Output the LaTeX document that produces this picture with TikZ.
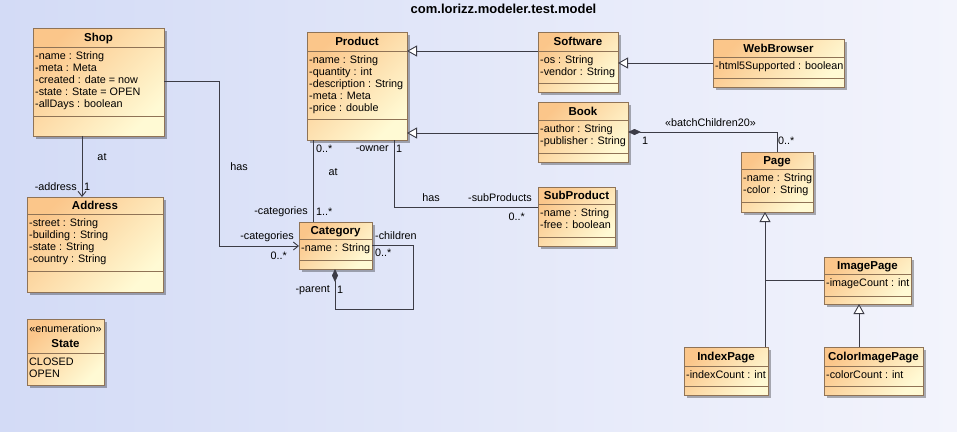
\documentclass[tikz,border=0pt]{standalone}
\usepackage{fontspec}
\setmainfont{Liberation Sans}
\usetikzlibrary{arrows.meta,calc,shadows}
\definecolor{bgL}{HTML}{D3DBF6}
\definecolor{bgR}{HTML}{F3F4FC}
\definecolor{boxA}{HTML}{FBC68A}
\definecolor{boxB}{HTML}{FFFAD4}
\definecolor{boxline}{HTML}{8F7356}
\definecolor{linec}{HTML}{3C3C46}
\tikzset{
 cbox/.style={draw=boxline, line width=0.9pt, inner sep=0pt, outer sep=0pt, anchor=north west,
   top color=boxA, bottom color=boxB, shading angle=45,
   drop shadow={shadow xshift=2.5pt, shadow yshift=-2.5pt, fill=black, opacity=0.3}},
 sepline/.style={draw=boxline, line width=0.8pt},
 ctitle/.style={font=\fontsize{11.5}{13}\selectfont\bfseries, anchor=base, inner sep=0pt},
 cattr/.style={font=\fontsize{10.8}{12}\selectfont, anchor=base west, inner sep=0pt},
 lbl/.style={font=\fontsize{10.8}{12}\selectfont, inner sep=0pt},
 assoc/.style={draw=linec, line width=0.9pt},
 navi/.style={assoc, -{Straight Barb[length=5pt,width=8pt]}},
 gen/.style={assoc, -{Triangle[open, length=10pt, width=11pt, fill=white]}},
 compend/.style={assoc, -{Diamond[length=13pt,width=6pt,fill=linec]}},
 compstart/.style={assoc, {Diamond[length=13pt,width=6pt,fill=linec]}-},
}
% name, x, y, w, h, sep1, sep2, title, attrs
\newcommand\umlcls[9]{%
 \node[cbox, minimum width=#4pt, minimum height=#5pt] (#1) at (#2,#3) {};
 \draw[sepline] ($(#1.north west)+(0,#6)$) -- ($(#1.north east)+(0,#6)$);
 \draw[sepline] ($(#1.north west)+(0,#7)$) -- ($(#1.north east)+(0,#7)$);
 \node[ctitle] (#1-t) at ($(#1.north)+(0,#6/2+4)$) {#8};
 \foreach \a [count=\i from 0] in {#9} {
   \node[cattr] (#1-a\i) at ($(#1.north west)+(2,#6+12.5+12*\i)$) {\a};
 }%
}
\begin{document}
\begin{tikzpicture}[x=1pt,y=-1pt]
\fill[left color=bgL, right color=bgR] (0,0) rectangle (957,431);
\useasboundingbox (0,0) rectangle (957,431);

\node[font=\fontsize{13}{15}\selectfont\bfseries, inner sep=0pt] (title) at (503.5,9) {com.lorizz.modeler.test.model};

\umlcls{shop}{33}{28}{131}{108}{19}{88}{Shop}{-name : String,-meta : Meta,-created : date = now,-state : State = OPEN,-allDays : boolean}
\umlcls{address}{27}{197}{136}{95}{17}{74}{Address}{-street : String,-building : String,-state : String,-country : String}
\umlcls{product}{307}{32}{100}{108}{19}{87}{Product}{-name : String,-quantity : int,-description : String,-meta : Meta,-price : double}
\umlcls{software}{538}{32}{80}{60}{19}{51}{Software}{-os : String,-vendor : String}
\umlcls{book}{538}{102}{90}{60}{18}{51}{Book}{-author : String,-publisher : String}
\umlcls{webbrowser}{713}{39}{131}{48}{18}{39}{WebBrowser}{-html5Supported : boolean}
\umlcls{subproduct}{538}{187}{77}{59}{17}{50}{SubProduct}{-name : String,-free : boolean}
\umlcls{category}{299}{222}{73}{47}{17}{38}{Category}{-name : String}
\umlcls{page}{741}{152}{72}{60}{17}{50}{Page}{-name : String,-color : String}
\umlcls{imagepage}{824}{257}{87}{47}{17}{39}{ImagePage}{-imageCount : int}
\umlcls{indexpage}{684}{347}{84}{48}{19}{39}{IndexPage}{-indexCount : int}
\umlcls{colorimagepage}{824}{347}{99}{48}{19}{39}{ColorImagePage}{-colorCount : int}

% enumeration
\node[cbox, minimum width=77pt, minimum height=66pt] (state) at (27,319) {};
\draw[sepline] (state.north west |- 0,353) -- (state.north east |- 0,353);
\node[lbl, anchor=base] (state-s) at (65.5,332) {«enumeration»};
\node[ctitle] (state-t) at (65.5,347) {State};
\node[cattr] (state-a0) at (29,365) {CLOSED};
\node[cattr] (state-a1) at (29,377) {OPEN};

% connectors
\draw[navi] (shop.south -| 82,0) -- (address.north -| 82,0);
\draw[navi] (shop.east |- 0,81) -| (219,246) -- (category.west |- 0,246);
\draw[assoc] (product.south -| 313,0) -- (category.north -| 313,0);
\draw[compend] (category.east |- 0,245) -| (413,309) -| (category.south -| 335,0);
\draw[assoc] (product.south -| 394,0) |- (subproduct.west |- 0,207);
\draw[gen] (software.west |- 0,51) -- (product.east |- 0,51);
\draw[gen] (book.west |- 0,133) -- (product.east |- 0,133);
\draw[gen] (webbrowser.west |- 0,63) -- (software.east |- 0,63);
\draw[compstart] (book.east |- 0,132) -| (page.north);
\coordinate (pj) at (765,280);
\draw[gen] (indexpage.north -| pj) -- (page.south -| pj);
\draw[assoc] (imagepage.west |- pj) -- (pj);
\draw[gen] (colorimagepage.north -| 859,0) -- (imagepage.south -| 859,0);

% labels
\node[lbl] (l1) at (102,157) {at};
\node[lbl, anchor=east] (l2) at (77,187) {-address};
\node[lbl, anchor=west] (l3) at (84,187) {1};
\node[lbl] (l4) at (239,167) {has};
\node[lbl, anchor=east] (l5) at (294,237) {-categories};
\node[lbl, anchor=east] (l6) at (287,256) {0..*};
\node[lbl, anchor=east] (l7) at (308,212) {-categories};
\node[lbl, anchor=west] (l8) at (316,212) {1..*};
\node[lbl, anchor=west] (l9) at (316,149) {0..*};
\node[lbl] (l10) at (333,172) {at};
\node[lbl, anchor=east] (l11) at (389,149) {-owner};
\node[lbl, anchor=west] (l12) at (396,149) {1};
\node[lbl] (l13) at (431,198) {has};
\node[lbl, anchor=east] (l14) at (532,198) {-subProducts};
\node[lbl, anchor=east] (l15) at (525,217) {0..*};
\node[lbl, anchor=west] (l16) at (375,236) {-children};
\node[lbl, anchor=west] (l17) at (375,253) {0..*};
\node[lbl, anchor=east] (l18) at (330,290) {-parent};
\node[lbl, anchor=west] (l19) at (337,290) {1};
\node[lbl] (l20) at (710.5,123) {«batchChildren20»};
\node[lbl, anchor=west] (l21) at (642,141) {1};
\node[lbl, anchor=west] (l22) at (778,141) {0..*};
\end{tikzpicture}
\end{document}
